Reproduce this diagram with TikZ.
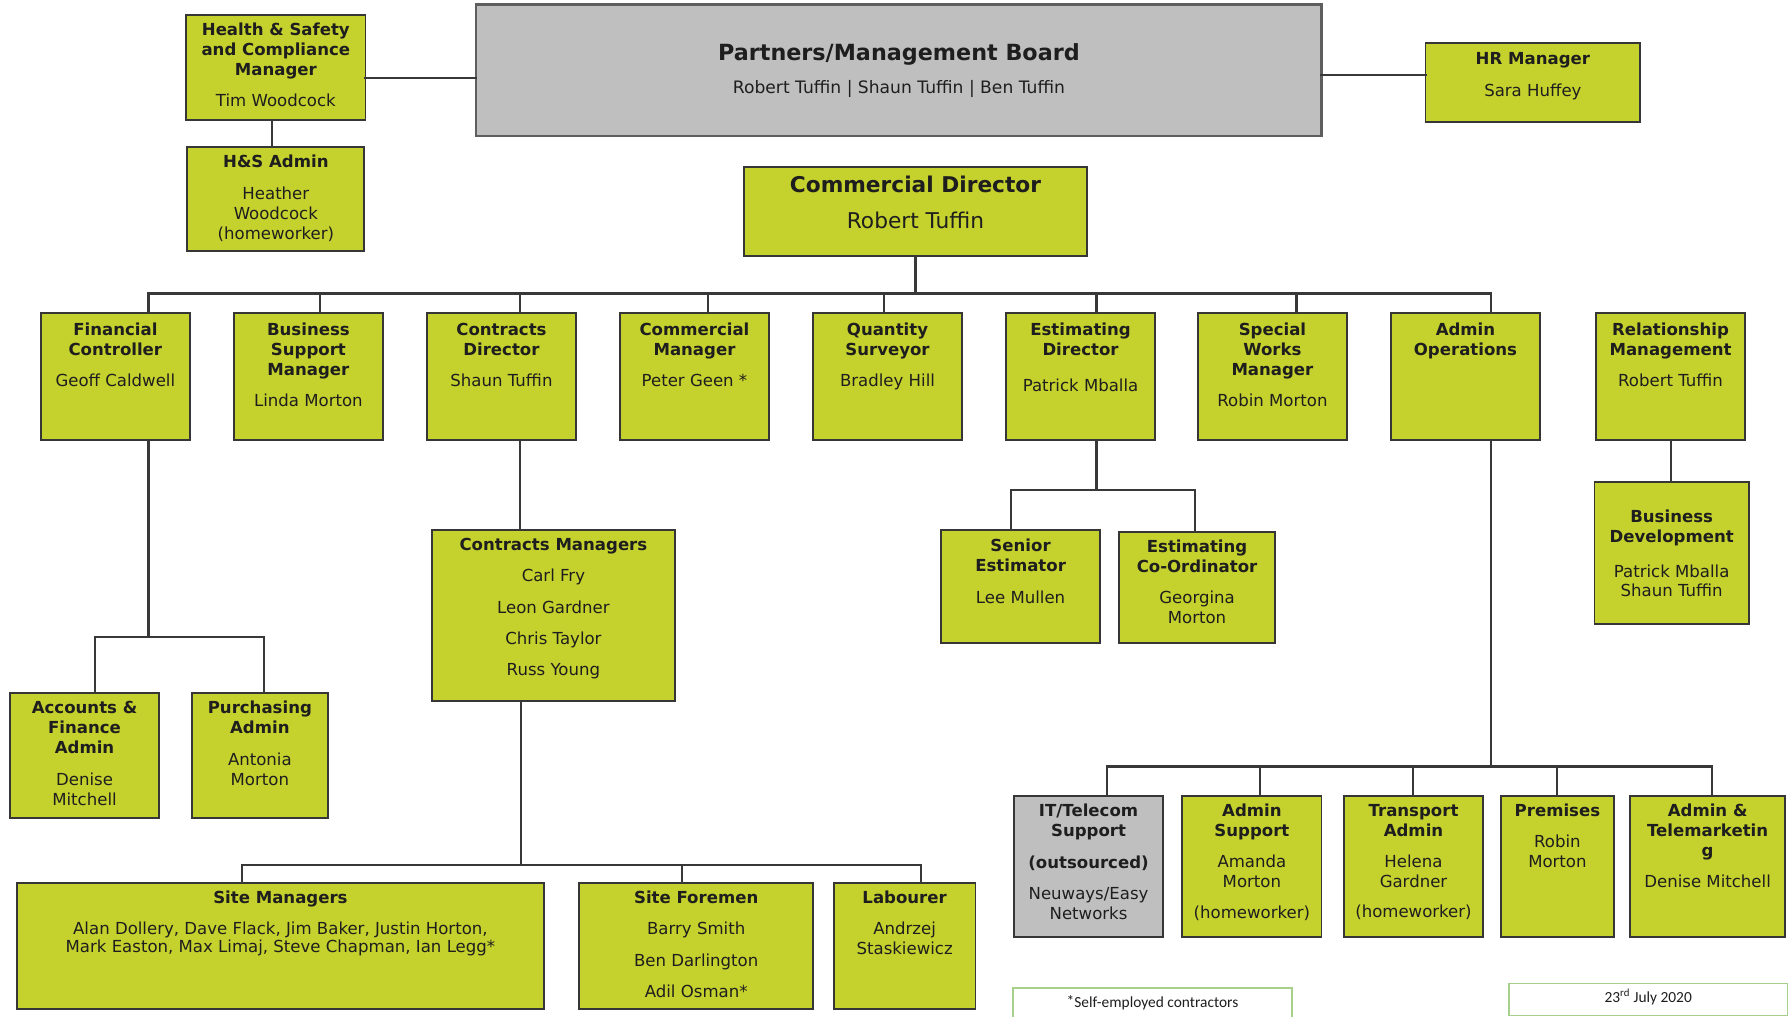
\documentclass[tikz,border=0pt]{standalone}
\usepackage{fontspec}
\setmainfont{DejaVu Sans}
\newfontfamily\calibfont{Carlito}
\definecolor{grn}{HTML}{C5D12D}
\definecolor{gry}{HTML}{BFBFBF}
\definecolor{edge}{HTML}{363636}
\definecolor{lnc}{HTML}{383838}
\definecolor{lgrn}{HTML}{A8D08D}
\definecolor{txtc}{HTML}{1E1E1E}
\newcommand\B[1]{\textbf{#1}}
\newcommand\ob[6]{\node[obox,#6,minimum width={(#4-#2)*1pt},minimum height={(#5-#3)*1pt}] (#1) at ({(#2+#4)/2},{(#3+#5)/2}) {};}
\newcommand\tx[4]{\node[txt] (#1) at (#2,{#3-6.2}) {#4};}
\newcommand\dropto[3]{\coordinate (#1-d) at (#2,#3);\draw[conn] (#1-d) -- (#1-d |- #1.north);}
\begin{document}
\begin{tikzpicture}[x=1pt,y=-1pt,
 obox/.style={draw=edge,line width=1.6pt,fill=grn,rectangle,inner sep=0pt,outer sep=0pt},
 gbox/.style={fill=gry},
 nbox/.style={draw=lgrn,line width=1.2pt,fill=white},
 conn/.style={draw=lnc,line width=1.9pt,line cap=rect},
 txt/.style={anchor=north,align=center,inner sep=0pt,text=txtc,font=\fontsize{14.5}{17.5}\selectfont},
 one/.style={anchor=base,inner sep=0pt,text=txtc}]
\useasboundingbox (0,0) rectangle (1568,890);
\fill[white] (0,0) rectangle (1568,890);
% ---------- boxes ----------
\ob{hs}{163}{13}{320}{105}{}
\ob{hsa}{164}{129}{319}{220}{}
\ob{board}{417}{4}{1157}{119}{gbox,draw=edge!80,line width=2pt}
\ob{hr}{1248}{38}{1436}{107}{}
\ob{cd}{651}{146}{952}{224}{}
\ob{fc}{36}{274}{166}{385}{}
\ob{bsm}{205}{274}{335}{385}{}
\ob{cdir}{374}{274}{504}{385}{}
\ob{cm}{543}{274}{673}{385}{}
\ob{qs}{712}{274}{842}{385}{}
\ob{ed}{881}{274}{1011}{385}{}
\ob{sw}{1049}{274}{1179}{385}{}
\ob{ao}{1218}{274}{1348}{385}{}
\ob{rm}{1397}{274}{1528}{385}{}
\ob{afa}{9}{607}{139}{716}{}
\ob{pa}{168}{607}{287}{716}{}
\ob{cmg}{378}{464}{591}{614}{}
\ob{se}{824}{464}{963}{563}{}
\ob{ec}{980}{466}{1116}{563}{}
\ob{bd}{1396}{422}{1531}{546}{}
\ob{it}{888}{697}{1018}{820}{gbox}
\ob{as}{1035}{697}{1157}{820}{}
\ob{ta}{1177}{697}{1298}{820}{}
\ob{pr}{1314}{697}{1413}{820}{}
\ob{at}{1427}{697}{1563}{820}{}
\ob{sm}{15}{773}{476}{883}{}
\ob{sf}{507}{773}{712}{883}{}
\ob{lab}{730}{773}{854}{883}{}
\ob{foot1}{887}{865}{1131}{897}{nbox}
\ob{foot2}{1321}{861}{1565}{889}{nbox}
% ---------- connectors ----------
\coordinate (hsy) at (0,68);
\draw[conn] (hs.east |- hsy) -- (board.west |- hsy);
\coordinate (hry) at (0,66);
\draw[conn] (board.east |- hry) -- (hr.west |- hry);
\coordinate (hsx) at (238,0);
\draw[conn] (hs.south -| hsx) -- (hsa.north -| hsx);
% main bus
\coordinate (busL) at (130,257);
\coordinate (busR) at (1305,257);
\draw[conn] (cd.south) -- (cd.south |- busL);
\draw[conn] (busL) -- (busR);
\dropto{fc}{130}{257}
\dropto{bsm}{280}{257}
\dropto{cdir}{455}{257}
\dropto{cm}{620}{257}
\dropto{qs}{774}{257}
\dropto{ed}{960}{257}
\dropto{sw}{1135}{257}
\dropto{ao}{1305}{257}
% finance branch
\coordinate (fcb) at (130,558);
\draw[conn] (fc.south -| fcb) -- (fcb);
\draw[conn] (83,558) -- (231,558);
\dropto{afa}{83}{558}
\dropto{pa}{231}{558}
% contracts
\coordinate (cdx) at (455,0);
\draw[conn] (cdir.south -| cdx) -- (cmg.north -| cdx);
\coordinate (cmb) at (456,757);
\draw[conn] (cmg.south -| cmb) -- (cmb);
\draw[conn] (212,757) -- (806,757);
\dropto{sm}{212}{757}
\dropto{sf}{597}{757}
\dropto{lab}{806}{757}
% estimating
\coordinate (edb) at (960,429);
\draw[conn] (ed.south -| edb) -- (edb);
\draw[conn] (885,429) -- (1046,429);
\dropto{se}{885}{429}
\dropto{ec}{1046}{429}
% relationship
\coordinate (rmx) at (1463,0);
\draw[conn] (rm.south -| rmx) -- (bd.north -| rmx);
% admin ops
\coordinate (aob) at (1305,671);
\draw[conn] (ao.south -| aob) -- (aob);
\draw[conn] (969,671) -- (1499,671);
\dropto{it}{969}{671}
\dropto{as}{1103}{671}
\dropto{ta}{1237}{671}
\dropto{pr}{1363}{671}
\dropto{at}{1499}{671}
% ---------- texts ----------
\tx{hs-t}{241.5}{26}{\B{Health \& Safety}\\\B{and Compliance}\\\B{Manager}\\[9.5pt]Tim Woodcock}
\tx{hsa-t}{241.5}{142}{\B{H\&S Admin}\\[10.5pt]Heather\\Woodcock\\(homeworker)}
\node[one,font=\fontsize{19.5}{23}\selectfont\bfseries] (board-t1) at (787,53.3) {Partners/Management Board};
\node[one,font=\fontsize{15}{18}\selectfont] (board-t2) at (787,82) {Robert Tuffin | Shaun Tuffin | Ben Tuffin};
\tx{hr-t}{1342}{52}{\B{HR Manager}\\[10.5pt]Sara Huffey}
\node[one,font=\fontsize{19}{22}\selectfont\bfseries] (cd-t1) at (801.5,168.2) {Commercial Director};
\node[one,font=\fontsize{19}{22}\selectfont] (cd-t2) at (801.5,200.2) {Robert Tuffin};
\tx{fc-t}{101}{289}{\B{Financial}\\\B{Controller}\\[9.5pt]Geoff Caldwell}
\tx{bsm-t}{270}{289}{\B{Business}\\\B{Support}\\\B{Manager}\\[9.5pt]Linda Morton}
\tx{cdir-t}{439}{289}{\B{Contracts}\\\B{Director}\\[9.5pt]Shaun Tuffin}
\tx{cm-t}{608}{289}{\B{Commercial}\\\B{Manager}\\[9.5pt]Peter Geen *}
\tx{qs-t}{777}{289}{\B{Quantity}\\\B{Surveyor}\\[9.5pt]Bradley Hill}
\tx{ed-t}{946}{289}{\B{Estimating}\\\B{Director}\\[14pt]Patrick Mballa}
\tx{sw-t}{1114}{289}{\B{Special}\\\B{Works}\\\B{Manager}\\[9.5pt]Robin Morton}
\tx{ao-t}{1283}{289}{\B{Admin}\\\B{Operations}}
\tx{rm-t}{1462.5}{289}{\B{Relationship}\\\B{Management}\\[9.5pt]Robert Tuffin}
\tx{afa-t}{74}{620}{\B{Accounts \&}\\\B{Finance}\\\B{Admin}\\[10.5pt]Denise\\Mitchell}
\tx{pa-t}{227.5}{620}{\B{Purchasing}\\\B{Admin}\\[10pt]Antonia\\Morton}
\tx{cmg-t}{484.5}{477}{\B{Contracts Managers}\\[10pt]Carl Fry\\[10pt]Leon Gardner\\[10pt]Chris Taylor\\[10pt]Russ Young}
\tx{se-t}{893.5}{478}{\B{Senior}\\\B{Estimator}\\[10.5pt]Lee Mullen}
\tx{ec-t}{1048}{479}{\B{Estimating}\\\B{Co-Ordinator}\\[9.5pt]Georgina\\Morton}
\tx{bd-t}{1463.5}{452}{\B{Business}\\\B{Development}\\[14pt]Patrick Mballa\\[-1.5pt]Shaun Tuffin}
\tx{it-t}{953}{710}{\B{IT/Telecom}\\\B{Support}\\[10.5pt]\B{(outsourced)}\\[9.5pt]Neuways/Easy\\Networks}
\tx{as-t}{1096}{710}{\B{Admin}\\\B{Support}\\[9.5pt]Amanda\\Morton\\[9.5pt](homeworker)}
\tx{ta-t}{1237.5}{710}{\B{Transport}\\\B{Admin}\\[9.5pt]Helena\\Gardner\\[9.5pt](homeworker)}
\tx{pr-t}{1363.5}{710}{\B{Premises}\\[9.5pt]Robin\\Morton}
\tx{at-t}{1495}{710}{\B{Admin \&}\\\B{Telemarketin}\\\B{g}\\[9.5pt]Denise Mitchell}
\tx{sm-t}{245.5}{786}{\B{Site Managers}\\[9.5pt]Alan Dollery, Dave Flack, Jim Baker, Justin Horton,\\[-1.5pt]Mark Easton, Max Limaj, Steve Chapman, Ian Legg*}
\tx{sf-t}{609.5}{786}{\B{Site Foremen}\\[10pt]Barry Smith\\[10pt]Ben Darlington\\[10pt]Adil Osman*}
\tx{lab-t}{792}{786}{\B{Labourer}\\[10pt]Andrzej\\Staskiewicz}
\node[one,font=\calibfont\fontsize{13.5}{16}\selectfont] (foot1-t) at (1009,882) {\raisebox{1pt}{*}Self-employed contractors};
\node[one,font=\calibfont\fontsize{13.5}{16}\selectfont] (foot2-t) at (1443,878) {23\textsuperscript{rd} July 2020};
\end{tikzpicture}
\end{document}
